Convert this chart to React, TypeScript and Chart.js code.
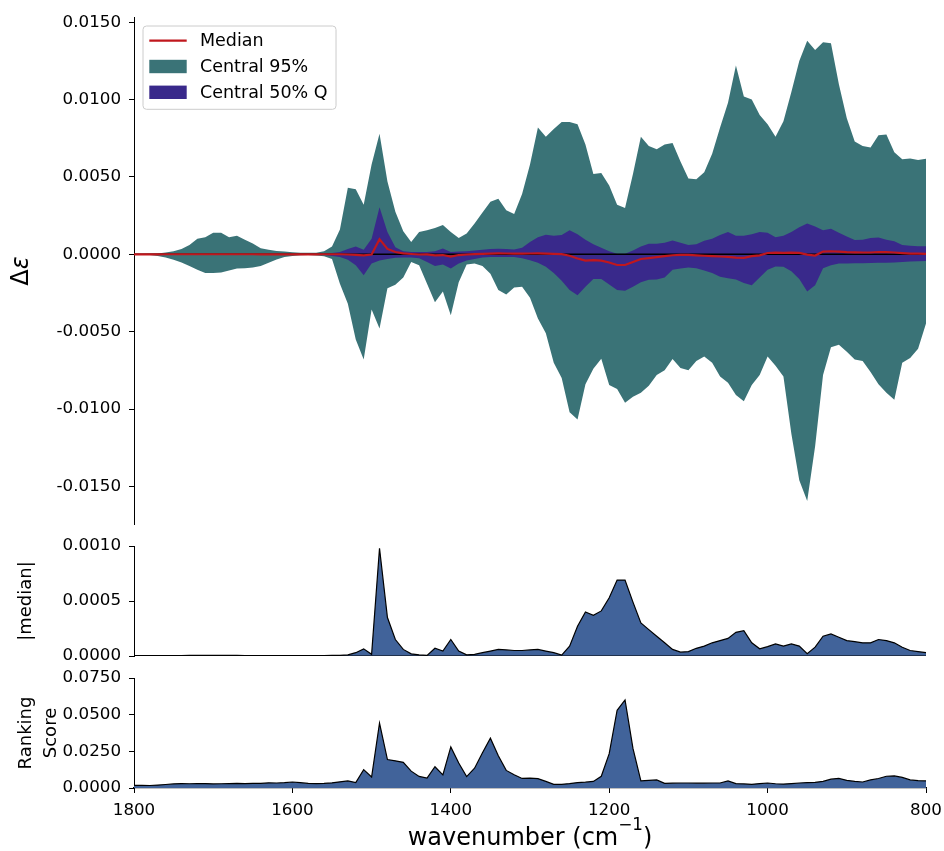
import React, { useEffect, useRef } from "react";
import { Chart, registerables } from "chart.js";

Chart.register(...registerables);

const FONT = "'DejaVu Sans', sans-serif";
const TEAL = "#3a7377";
const PURPLE = "#39298b";
const RED = "#c0171d";
const STEEL = "#41639a";

// Wavenumber grid in cm^-1, high to low
const WAVENUMBERS = [
  1800, 1790, 1780, 1770, 1760, 1750, 1740, 1730, 1720, 1710,
  1700, 1690, 1680, 1670, 1660, 1650, 1640, 1630, 1620, 1610,
  1600, 1590, 1580, 1570, 1560, 1550, 1540, 1530, 1520, 1510,
  1500, 1490, 1480, 1470, 1460, 1450, 1440, 1430, 1420, 1410,
  1400, 1390, 1380, 1370, 1360, 1350, 1340, 1330, 1320, 1310,
  1300, 1290, 1280, 1270, 1260, 1250, 1240, 1230, 1220, 1210,
  1200, 1190, 1180, 1170, 1160, 1150, 1140, 1130, 1120, 1110,
  1100, 1090, 1080, 1070, 1060, 1050, 1040, 1030, 1020, 1010,
  1000, 990, 980, 970, 960, 950, 940, 930, 920, 910,
  900, 890, 880, 870, 860, 850, 840, 830, 820, 810,
  800,
];

// Δε quantile bands and median, in units of 1e-3
const UPPER_95 = [
  0.02, 0.02, 0.03, 0.06, 0.12, 0.2, 0.35, 0.6, 1.0, 1.1,
  1.4, 1.4, 1.1, 1.2, 0.95, 0.7, 0.4, 0.3, 0.22, 0.18,
  0.13, 0.1, 0.1, 0.11, 0.2, 0.5, 1.6, 4.3, 4.2, 3.2,
  5.8, 7.8, 4.7, 2.75, 1.5, 0.8, 1.45, 1.55, 1.7, 1.9,
  1.45, 1.05, 1.35, 2.0, 2.7, 3.4, 3.6, 2.85, 2.6, 3.9,
  5.8, 8.2, 7.6, 8.1, 8.55, 8.55, 8.4, 7.1, 5.2, 5.25,
  4.45, 3.2, 3.0, 5.2, 7.6, 7.0, 6.8, 7.1, 7.2, 6.0,
  4.9, 4.85, 5.3, 6.5, 8.2, 9.8, 12.2, 10.2, 10.0, 9.0,
  8.4, 7.6, 8.6, 10.5, 12.5, 13.8, 13.2, 13.7, 13.65, 11.0,
  8.8, 7.3, 7.0, 6.9, 7.7, 7.75, 6.6, 6.15, 6.2, 6.1,
  6.17,
];
const LOWER_95 = [
  -0.02, -0.03, -0.05, -0.1, -0.2, -0.35, -0.52, -0.75, -1.0, -1.2,
  -1.2, -1.18, -1.05, -0.92, -0.9, -0.85, -0.75, -0.55, -0.33, -0.18,
  -0.1, -0.06, -0.05, -0.07, -0.12, -0.3, -1.9, -3.2, -5.5, -6.8,
  -3.56, -4.8, -2.2, -1.96, -1.5, -0.5, -0.7, -1.9, -3.1, -2.4,
  -3.94, -1.8, -0.65, -0.6, -0.75, -1.25, -2.3, -2.6, -2.15, -2.1,
  -2.8, -4.15, -5.1, -7.0, -8.0, -10.2, -10.67, -8.4, -7.4, -6.75,
  -8.45, -8.7, -9.6, -9.2, -8.95, -8.5, -7.8, -7.5, -6.77, -7.35,
  -7.5, -6.9, -6.6, -7.0, -7.9, -8.3, -9.1, -9.5, -8.45, -7.8,
  -6.6, -7.2, -7.9, -11.6, -14.6, -15.95, -12.4, -7.8, -6.0, -5.85,
  -6.3, -6.8, -6.9, -7.6, -8.4, -8.95, -9.4, -7.0, -6.7, -6.1,
  -4.47,
];
const UPPER_50 = [
  0.01, 0.01, 0.01, 0.01, 0.01, 0.015, 0.02, 0.02, 0.02, 0.02,
  0.02, 0.02, 0.02, 0.02, 0.02, 0.02, 0.015, 0.01, 0.01, 0.01,
  0.01, 0.01, 0.01, 0.02, 0.03, 0.08, 0.15, 0.35, 0.5, 0.3,
  1.0, 3.05, 1.45, 0.45, 0.2, 0.15, 0.15, 0.15, 0.2, 0.37,
  0.15, 0.18, 0.2, 0.25, 0.3, 0.35, 0.36, 0.34, 0.32, 0.42,
  0.8, 1.1, 1.27, 1.2, 1.25, 1.55, 1.3, 0.95, 0.65, 0.43,
  0.2, 0.04, 0.04, 0.25, 0.5, 0.69, 0.69, 0.75, 0.9, 0.75,
  0.6, 0.65, 0.88, 1.0, 1.25, 1.44, 1.2, 1.2, 1.29, 1.45,
  1.4, 1.1, 1.2, 1.45, 1.75, 2.0, 1.8, 1.55, 1.66, 1.4,
  1.15, 0.92, 0.95, 1.05, 1.08, 0.95, 0.85, 0.6, 0.55, 0.52,
  0.52,
];
const LOWER_50 = [
  -0.01, -0.01, -0.01, -0.01, -0.01, -0.015, -0.02, -0.02, -0.02, -0.02,
  -0.02, -0.02, -0.02, -0.02, -0.02, -0.02, -0.015, -0.01, -0.01, -0.01,
  -0.01, -0.01, -0.01, -0.02, -0.05, -0.1, -0.17, -0.35, -0.7, -1.35,
  -0.6, -0.4, -0.3, -0.22, -0.2, -0.2, -0.25, -0.5, -0.75, -0.65,
  -0.92, -0.6, -0.4, -0.3, -0.2, -0.17, -0.17, -0.17, -0.17, -0.25,
  -0.39, -0.55, -0.8, -1.2, -1.7, -2.3, -2.65, -2.1, -1.6, -1.6,
  -1.95, -2.3, -2.35, -2.1, -1.8, -1.65, -1.62, -1.5, -1.0, -0.92,
  -0.85, -0.9, -1.05, -1.2, -1.45, -1.55, -1.63, -1.85, -2.0, -1.5,
  -1.0, -0.78, -0.8, -1.1, -1.6, -2.4, -2.0, -0.9, -0.7, -0.6,
  -0.6, -0.58, -0.57, -0.56, -0.55, -0.55, -0.52, -0.5, -0.47, -0.45,
  -0.43,
];
const MEDIAN = [
  0.003, 0.003, 0.003, 0.003, 0.004, 0.004, 0.004, 0.005, 0.005, 0.005,
  0.005, 0.005, 0.005, 0.005, 0.004, 0.004, 0.003, 0.003, 0.003, 0.003,
  0.003, 0.003, 0.003, 0.003, 0.004, 0.005, 0.006, -0.01, -0.03, -0.065,
  -0.015, 0.98, 0.35, 0.15, 0.06, 0.02, -0.01, -0.005, -0.07, -0.045,
  -0.15, -0.045, -0.01, 0.015, 0.03, 0.045, 0.06, 0.055, 0.05, 0.05,
  0.055, 0.06, 0.045, 0.03, 0.008, -0.09, -0.27, -0.4, -0.37, -0.41,
  -0.53, -0.69, -0.69, -0.49, -0.3, -0.24, -0.18, -0.12, -0.06, -0.035,
  -0.04, -0.07, -0.09, -0.12, -0.14, -0.16, -0.215, -0.23, -0.12, -0.065,
  0.085, 0.11, 0.09, 0.11, 0.09, -0.02, -0.08, 0.18, 0.2, 0.17,
  0.14, 0.13, 0.12, 0.12, 0.15, 0.14, 0.12, 0.08, 0.05, 0.04,
  0.03,
];
const RANKING_SCORE = [
  0.0018, 0.0018, 0.0017, 0.002, 0.0024, 0.0028, 0.003, 0.0029, 0.003, 0.003,
  0.0028, 0.0029, 0.003, 0.0031, 0.003, 0.0032, 0.0031, 0.0035, 0.0034, 0.0036,
  0.0041, 0.0036, 0.0031, 0.003, 0.0031, 0.0035, 0.0042, 0.0048, 0.0037, 0.0125,
  0.0075, 0.0443, 0.0194, 0.0185, 0.0175, 0.0115, 0.0079, 0.0068, 0.0145, 0.009,
  0.028, 0.017, 0.0078, 0.0135, 0.024, 0.034, 0.022, 0.012, 0.009, 0.0065,
  0.0067, 0.0064, 0.0045, 0.0025, 0.0025, 0.003, 0.0037, 0.004, 0.0045, 0.008,
  0.0234, 0.053, 0.06, 0.027, 0.0048, 0.0052, 0.0055, 0.0032, 0.0033, 0.0034,
  0.0034, 0.0033, 0.0033, 0.0034, 0.0034, 0.0048, 0.003, 0.0028, 0.0025, 0.003,
  0.0034, 0.0029, 0.0027, 0.003, 0.0034, 0.0037, 0.0039, 0.0045, 0.006, 0.0065,
  0.0052, 0.0045, 0.0041, 0.0055, 0.0065, 0.008, 0.0082, 0.0072, 0.0055, 0.005,
  0.0048,
];

const DELTA_TICKS = [-0.015, -0.01, -0.005, 0, 0.005, 0.01, 0.015];
const MEDIAN_TICKS = [0, 0.0005, 0.001];
const SCORE_TICKS = [0, 0.025, 0.05, 0.075];
const X_TICKS = [1800, 1600, 1400, 1200, 1000, 800];
const LEGEND_ORDER = ["Median", "Central 95%", "Central 50% Q"];

const MILLI = 1e-3;
const WIDTH = 944;
const AXIS_WIDTH = 134;

const series = (vals: number[], f: (v: number) => number) =>
  WAVENUMBERS.map((w, i) => ({ x: w, y: f(vals[i]) }));
const baseline = () => WAVENUMBERS.map((w) => ({ x: w, y: 0 }));

type Run = { text: string; size: number; italic?: boolean; rise?: number };

// Draws a run of text centred on (px, py); rotated text reads bottom-to-top
function drawRuns(ctx: CanvasRenderingContext2D, runs: Run[], px: number, py: number, rotated: boolean) {
  ctx.save();
  ctx.translate(px, py);
  if (rotated) ctx.rotate(-Math.PI / 2);
  ctx.textBaseline = "alphabetic";
  ctx.textAlign = "left";
  ctx.fillStyle = "#000";
  const fonts = runs.map((r) => `${r.italic ? "italic " : ""}${r.size}px ${FONT}`);
  const widths = runs.map((r, i) => {
    ctx.font = fonts[i];
    return ctx.measureText(r.text).width;
  });
  let x = -widths.reduce((a, b) => a + b, 0) / 2;
  runs.forEach((r, i) => {
    ctx.font = fonts[i];
    ctx.fillText(r.text, x, -(r.rise || 0));
    x += widths[i];
  });
  ctx.restore();
}

const textPlugin = (id: string, draw: (ctx: CanvasRenderingContext2D, chart: any) => void) => ({
  id,
  afterDraw(chart: any) {
    draw(chart.ctx, chart);
  },
});

const legendPlugin = {
  id: "bandLegend",
  afterDraw(chart: any) {
    const ctx: CanvasRenderingContext2D = chart.ctx;
    const { left, top } = chart.chartArea;
    const entries = LEGEND_ORDER.map((label) => chart.data.datasets.find((d: any) => d.label === label));
    ctx.save();
    ctx.font = `17.5px ${FONT}`;
    const textW = Math.max(...entries.map((d: any) => ctx.measureText(d.label).width));
    const x0 = left + 9;
    const y0 = top + 9;
    const handleX = x0 + 6.3;
    const handleW = 37.4;
    const textX = x0 + 57;
    const w = textX - x0 + textW + 8.5;
    const h = 83.3;
    ctx.beginPath();
    ctx.roundRect(x0, y0, w, h, 3.5);
    ctx.fillStyle = "rgba(255,255,255,0.8)";
    ctx.fill();
    ctx.strokeStyle = "#cccccc";
    ctx.lineWidth = 1;
    ctx.stroke();
    entries.forEach((d: any, i: number) => {
      const cy = y0 + 14.7 + i * 25.8;
      if (d.legendKind === "line") {
        ctx.beginPath();
        ctx.moveTo(handleX, cy);
        ctx.lineTo(handleX + handleW, cy);
        ctx.strokeStyle = d.borderColor;
        ctx.lineWidth = d.borderWidth;
        ctx.stroke();
      } else {
        ctx.fillStyle = d.backgroundColor;
        ctx.fillRect(handleX, cy - 6.7, handleW, 13.4);
      }
      ctx.fillStyle = "#000";
      ctx.textBaseline = "middle";
      ctx.textAlign = "left";
      ctx.fillText(d.label, textX, cy + 1);
    });
    ctx.restore();
  },
};

function yAxis(min: number, max: number, ticks: number[]) {
  return {
    type: "linear",
    min,
    max,
    afterBuildTicks: (s: any) => {
      s.ticks = ticks.map((value) => ({ value }));
    },
    afterFit: (s: any) => {
      // fixed axis width; plot area is set by the layout padding alone
      s.width = AXIS_WIDTH;
      s.paddingTop = 0;
      s.paddingBottom = 0;
    },
    border: { display: true, color: "#000", width: 1 },
    grid: { drawOnChartArea: false, drawTicks: true, tickLength: 5, color: "#000", tickColor: "#000", tickWidth: 1 },
    ticks: {
      color: "#000",
      font: { family: FONT, size: 16.7 },
      padding: 8,
      autoSkip: false,
      callback: (v: any) => Number(v).toFixed(4),
    },
  };
}

const hiddenX = { type: "linear", min: 800, max: 1800, reverse: true, display: false };

const baseOptions = (padding: any, scales: any) => ({
  responsive: false,
  animation: false,
  devicePixelRatio: 1,
  events: [],
  layout: { padding },
  elements: { point: { radius: 0 }, line: { tension: 0 } },
  plugins: { legend: { display: false }, tooltip: { enabled: false } },
  scales,
});

function deltaConfig(): any {
  return {
    type: "line",
    data: {
      datasets: [
        { label: "Median", data: series(MEDIAN, (v) => v * MILLI), borderColor: RED, borderWidth: 2.2, fill: false, order: 0, legendKind: "line" },
        { label: "zero", data: baseline(), borderColor: "#000", borderWidth: 1.5, fill: false, order: 1 },
        { label: "Central 50% Q", data: series(UPPER_50, (v) => v * MILLI), backgroundColor: PURPLE, borderColor: "transparent", borderWidth: 0, fill: "+1", order: 2, legendKind: "box" },
        { label: "Central 50% Q lower", data: series(LOWER_50, (v) => v * MILLI), borderColor: "transparent", borderWidth: 0, fill: false, order: 2 },
        { label: "Central 95%", data: series(UPPER_95, (v) => v * MILLI), backgroundColor: TEAL, borderColor: "transparent", borderWidth: 0, fill: "+1", order: 3, legendKind: "box" },
        { label: "Central 95% lower", data: series(LOWER_95, (v) => v * MILLI), borderColor: "transparent", borderWidth: 0, fill: false, order: 3 },
      ],
    },
    options: baseOptions({ left: 0, right: 18, top: 17, bottom: 12 }, { x: hiddenX, y: yAxis(-0.01743, 0.01534, DELTA_TICKS) }),
    plugins: [
      legendPlugin,
      textPlugin("deltaTitle", (ctx) =>
        drawRuns(ctx, [{ text: "Δ", size: 24 }, { text: "ε", size: 24, italic: true }], 28, 271, true)
      ),
    ],
  };
}

function medianConfig(): any {
  return {
    type: "line",
    data: {
      datasets: [
        { label: "zero", data: baseline(), borderColor: "#000", borderWidth: 1.2, fill: false, order: 0 },
        { label: "|median|", data: series(MEDIAN, (v) => Math.abs(v) * MILLI), backgroundColor: STEEL, borderColor: "#000", borderWidth: 1.2, fill: "origin", order: 1 },
      ],
    },
    options: baseOptions({ left: 0, right: 18, top: 10, bottom: 11 }, { x: hiddenX, y: yAxis(0, 0.001, MEDIAN_TICKS) }),
    plugins: [
      textPlugin("medianTitle", (ctx, chart) =>
        drawRuns(ctx, [{ text: "|median|", size: 18 }], 30.5, (chart.chartArea.top + chart.chartArea.bottom) / 2, true)
      ),
    ],
  };
}

function scoreConfig(): any {
  return {
    type: "line",
    data: {
      datasets: [
        { label: "Ranking Score", data: series(RANKING_SCORE, (v) => v), backgroundColor: STEEL, borderColor: "#000", borderWidth: 1.2, fill: "origin" },
      ],
    },
    options: baseOptions({ left: 0, right: 18, top: 11, bottom: 0 }, {
      x: {
        type: "linear",
        min: 800,
        max: 1800,
        reverse: true,
        afterBuildTicks: (s: any) => {
          s.ticks = X_TICKS.map((value) => ({ value }));
        },
        afterFit: (s: any) => {
          s.height = 63;
          s.paddingLeft = 0;
          s.paddingRight = 0;
        },
        border: { display: true, color: "#000", width: 1.2 },
        grid: { drawOnChartArea: false, drawTicks: true, tickLength: 5, color: "#000", tickColor: "#000", tickWidth: 1 },
        ticks: {
          color: "#000",
          font: { family: FONT, size: 16.7 },
          padding: 8,
          maxRotation: 0,
          autoSkip: false,
          callback: (v: any) => String(v),
        },
      },
      y: yAxis(0, 0.075, SCORE_TICKS),
    }),
    plugins: [
      textPlugin("scoreTitles", (ctx, chart) => {
        const cy = (chart.chartArea.top + chart.chartArea.bottom) / 2;
        drawRuns(ctx, [{ text: "Ranking", size: 18 }], 31, cy, true);
        drawRuns(ctx, [{ text: "Score", size: 18 }], 55.5, cy, true);
        drawRuns(
          ctx,
          [
            { text: "wavenumber (cm", size: 24 },
            { text: "−1", size: 16.8, rise: 15 },
            { text: ")", size: 24 },
          ],
          (chart.chartArea.left + chart.chartArea.right) / 2,
          178,
          false
        );
      }),
    ],
  };
}

function Panel({ top, height, build }: { top: number; height: number; build: () => any }) {
  const ref = useRef<HTMLCanvasElement>(null);
  useEffect(() => {
    if (!ref.current) return;
    const chart = new Chart(ref.current, build());
    return () => chart.destroy();
  }, [build]);
  return (
    <canvas
      ref={ref}
      width={WIDTH}
      height={height}
      style={{ position: "absolute", left: 0, top, width: WIDTH, height, display: "block" }}
    />
  );
}

export default function App() {
  return (
    <div style={{ position: "absolute", left: 0, top: 0, width: WIDTH, height: 851, background: "#fff", overflow: "hidden" }}>
      <Panel top={0} height={536} build={deltaConfig} />
      <Panel top={536} height={131} build={medianConfig} />
      <Panel top={667} height={184} build={scoreConfig} />
    </div>
  );
}
